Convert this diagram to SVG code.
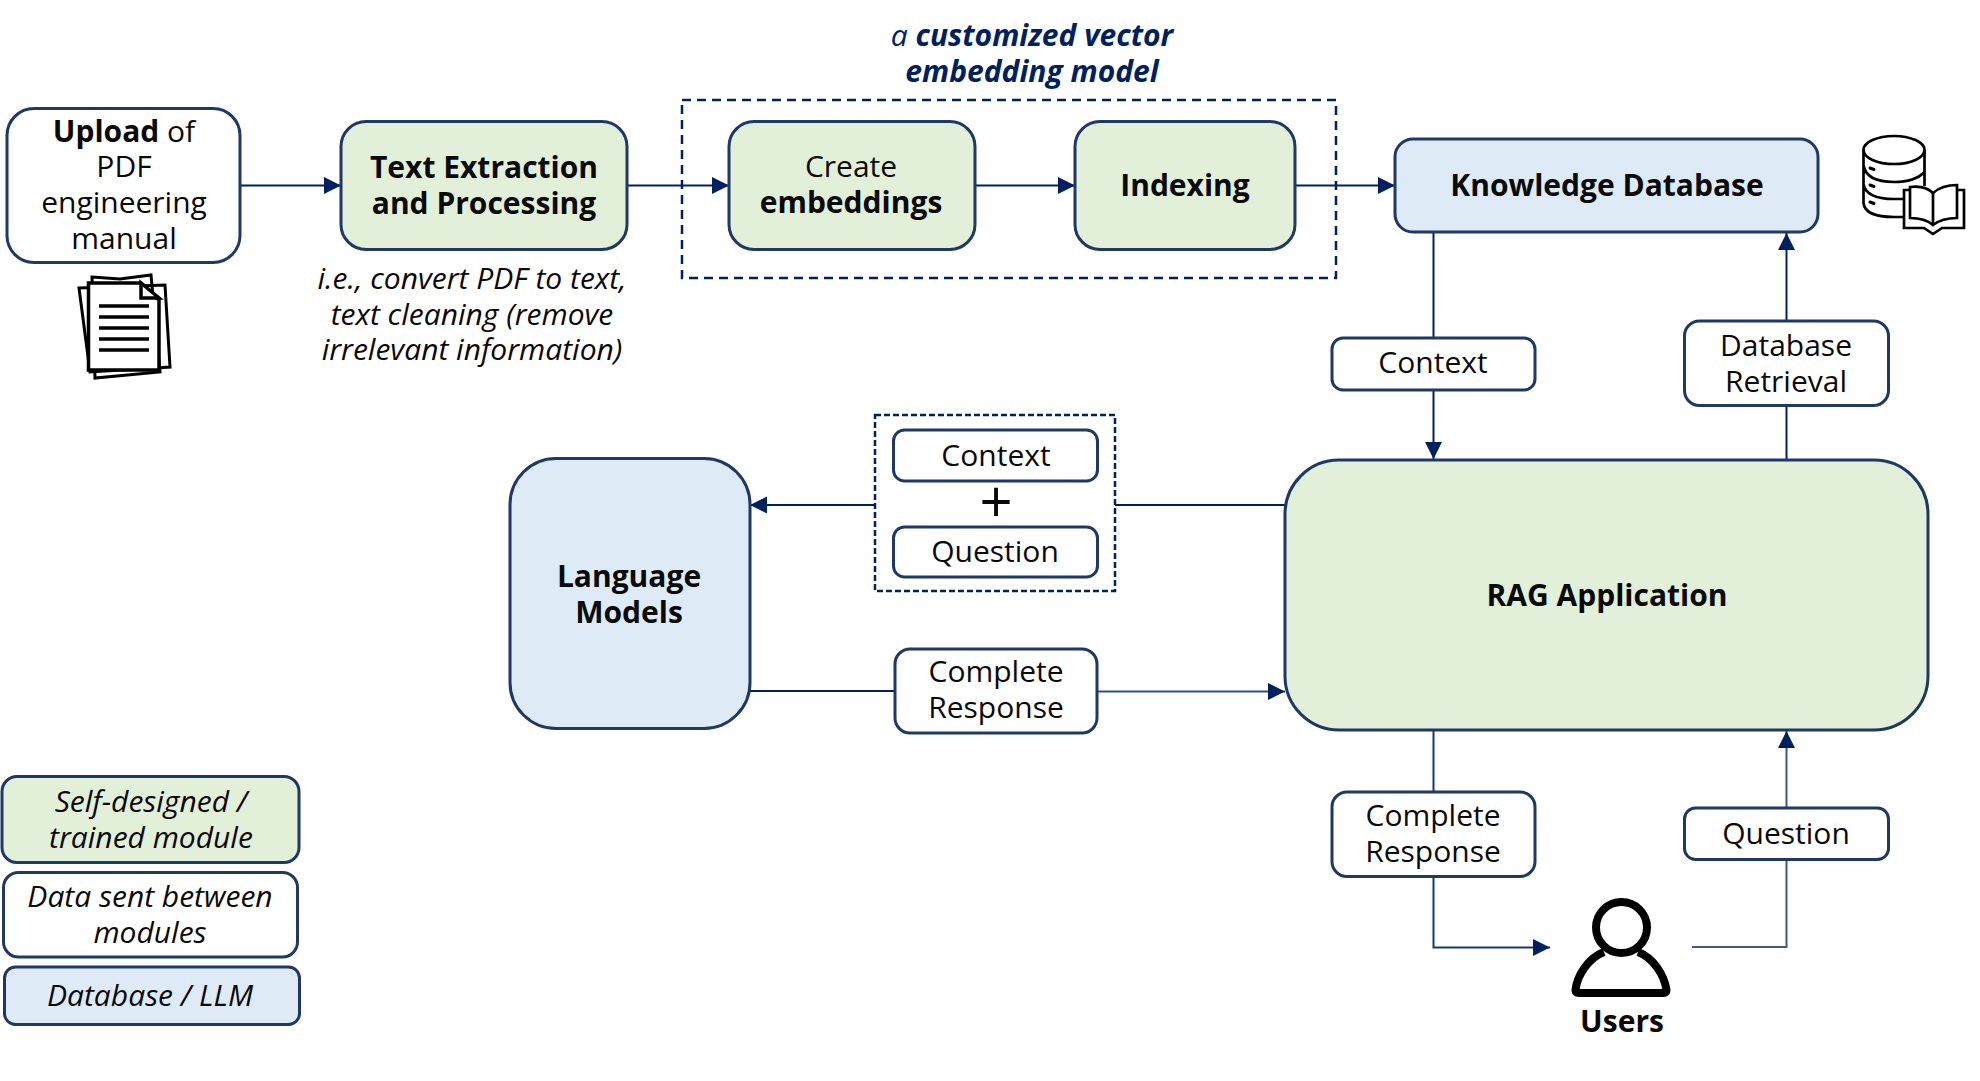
<svg xmlns="http://www.w3.org/2000/svg" width="1980" height="1081" viewBox="0 0 1980 1081">
<defs>
<style>
text{font-family:"Open Sans","Noto Sans","Liberation Sans",sans-serif;font-size:30px;fill:#0a0a0a;text-anchor:middle}
.b{font-weight:700}
.i{font-style:italic}
.t{font-style:italic;fill:#002060;font-weight:700}
.box{stroke:#1f3864;stroke-width:3}
.w{fill:#fff}.g{fill:#e2efd9}.bl{fill:#deeaf6}
.c{fill:none;stroke:#002060;stroke-width:2}
.d{fill:none;stroke:#002060;stroke-width:2.5}
.ic{fill:none;stroke:#000}
</style>
<marker id="a" markerWidth="20" markerHeight="20" refX="17" refY="8.500" orient="auto" markerUnits="userSpaceOnUse"><path d="M0 0L17 8.500L0 17Z" fill="#002060"/></marker>
</defs>
<rect width="1980" height="1081" fill="#fff"/>
<g id="connectors">
<path class="c" marker-end="url(#a)" d="M240 185.500H341"/>
<path class="c" marker-end="url(#a)" d="M627 185.500H729"/>
<path class="c" marker-end="url(#a)" d="M975 185.500H1075"/>
<path class="c" marker-end="url(#a)" d="M1295 185.500H1395"/>
<path class="c" marker-end="url(#a)" d="M1433.500 232V459"/>
<path class="c" marker-end="url(#a)" d="M1786.500 459V233"/>
<path class="c" d="M1285 505H1115"/>
<path class="c" marker-end="url(#a)" d="M875 505H750"/>
<path class="c" d="M750 691H895"/>
<path class="c" marker-end="url(#a)" d="M1097 691.500H1285" stroke-opacity=".8"/>
<path class="c" marker-end="url(#a)" d="M1433.500 730V947.500H1550" stroke-opacity=".9"/>
<path class="c" marker-end="url(#a)" d="M1692 947H1786.500V731" stroke-opacity=".75"/>
</g>
<g id="group-embedding"><rect class="d" x="682" y="100" width="654" height="178" stroke-dasharray="9 6"/>
<text class="t" x="1032" y="46"><tspan style="font-weight:400">a </tspan>customized vector</text>
<text class="t" x="1032" y="82">embedding model</text></g>
<g id="group-prompt"><rect class="d" x="875" y="415" width="240" height="176" stroke-dasharray="6 3"/>
<text x="996" y="523" style="font-size:58px">+</text></g>
<g id="upload"><rect class="box w" x="7" y="108.500" width="233" height="154" rx="27"/>
<text x="124" y="142"><tspan class="b">Upload</tspan> of</text><text x="124" y="177">PDF</text><text x="124" y="213">engineering</text><text x="124" y="249">manual</text></g>
<g id="text-extraction"><rect class="box g" x="341" y="121.500" width="286" height="128" rx="25"/>
<text class="b" x="484" y="178">Text Extraction</text><text class="b" x="484" y="214">and Processing</text></g>
<g id="text-note"><text class="i" x="472" y="289">i.e., convert PDF to text,</text><text class="i" x="472" y="325">text cleaning (remove</text><text class="i" x="472" y="360">irrelevant information)</text></g>
<g id="create"><rect class="box g" x="729" y="121.500" width="246" height="128" rx="25"/>
<text x="851" y="177">Create</text><text class="b" x="851" y="213">embeddings</text></g>
<g id="indexing"><rect class="box g" x="1075" y="121.500" width="220" height="128" rx="25"/>
<text class="b" x="1185" y="196">Indexing</text></g>
<g id="knowledge"><rect class="box bl" x="1395" y="139" width="423" height="93" rx="18"/>
<text class="b" x="1607" y="196">Knowledge Database</text></g>
<g id="context-1"><rect class="box w" x="1332" y="338" width="203" height="52" rx="11"/><text x="1433" y="373">Context</text></g>
<g id="retrieval"><rect class="box w" x="1684.500" y="321" width="204" height="84.500" rx="15"/><text x="1786" y="356">Database</text><text x="1786" y="392">Retrieval</text></g>
<g id="rag"><rect class="box g" x="1285" y="460" width="643" height="270" rx="54"/><text class="b" x="1607" y="606">RAG Application</text></g>
<g id="language"><rect class="box bl" x="510" y="458.500" width="240" height="270" rx="46"/><text class="b" x="629" y="587">Language</text><text class="b" x="629" y="623">Models</text></g>
<g id="context-2"><rect class="box w" x="893.500" y="430" width="204" height="51" rx="11"/><text x="996" y="466">Context</text></g>
<g id="question-1"><rect class="box w" x="893.500" y="527" width="204" height="50" rx="11"/><text x="995" y="562">Question</text></g>
<g id="response-1"><rect class="box w" x="895" y="649" width="202" height="84" rx="15"/><text x="996" y="682">Complete</text><text x="996" y="718">Response</text></g>
<g id="response-2"><rect class="box w" x="1332" y="792" width="203" height="84.500" rx="15"/><text x="1433" y="826">Complete</text><text x="1433" y="862">Response</text></g>
<g id="question-2"><rect class="box w" x="1684.500" y="808" width="204" height="51.500" rx="11"/><text x="1786" y="844">Question</text></g>
<g id="users">
<path d="M1604 952C1588 958 1577 976 1575.500 990Q1575.500 993 1579 993H1663Q1666.500 993 1666.500 990C1664.500 976 1654 958 1638 952" fill="#fff" stroke="#000" stroke-width="8" stroke-linejoin="round"/>
<circle cx="1621.500" cy="927.500" r="25.500" fill="#fff" stroke="#000" stroke-width="8"/>
<text class="b" x="1622" y="1032">Users</text></g>
<g id="doc-icon">
<path class="ic" stroke-width="3" fill="#fff" d="M79 288L165 285L170 367L90 372Z"/>
<path class="ic" stroke-width="3" fill="#fff" d="M92 277L120 279L151 275L160 372L95 378Z"/>
<path d="M88.500 283H141L159 300V370H88.500Z" fill="#fff" stroke="#000" stroke-width="3.500"/>
<path d="M141 283V298H159Z" fill="#fff" stroke="#000" stroke-width="3.500"/>
<path d="M99 306H149M99 317H149M99 328H149M99 339H149M99 350H149" stroke="#000" stroke-width="3.500"/></g>
<g id="db-icon">
<ellipse class="ic" stroke-width="2.700" cx="1894" cy="150" rx="30.500" ry="14"/>
<path class="ic" stroke-width="2.700" d="M1863.500 150V203Q1865 217 1894 217H1904M1924.500 150V186M1863.500 165Q1866 182 1894 182Q1915 182 1924.500 172M1863.500 184Q1866 199 1894 199H1904"/>
<path d="M1870 168l4 1.500M1870 185l4 1.500M1870 202l4 1.500" stroke="#000" stroke-width="3" stroke-linecap="round"/>
<path class="ic" fill="#fff" stroke-width="2.700" d="M1910 187Q1925 185 1933 193Q1942 185 1957 185V218Q1942 218 1933 225Q1925 218 1910 218Z"/>
<path class="ic" stroke-width="2.700" d="M1933 193V225M1957 190H1964V228H1942L1933 234L1924 228H1904V190H1910"/>
</g>
<g id="legend-green"><rect class="box g" x="2" y="776.500" width="297" height="86" rx="15"/><text class="i" x="151" y="812">Self-designed /</text><text class="i" x="151" y="848">trained module</text></g>
<g id="legend-white"><rect class="box w" x="3.500" y="872.500" width="294" height="84.500" rx="15"/><text class="i" x="150" y="907">Data sent between</text><text class="i" x="150" y="943">modules</text></g>
<g id="legend-blue"><rect class="box bl" x="4.500" y="967" width="295" height="57.500" rx="11"/><text class="i" x="150" y="1006">Database / LLM</text></g>
</svg>
